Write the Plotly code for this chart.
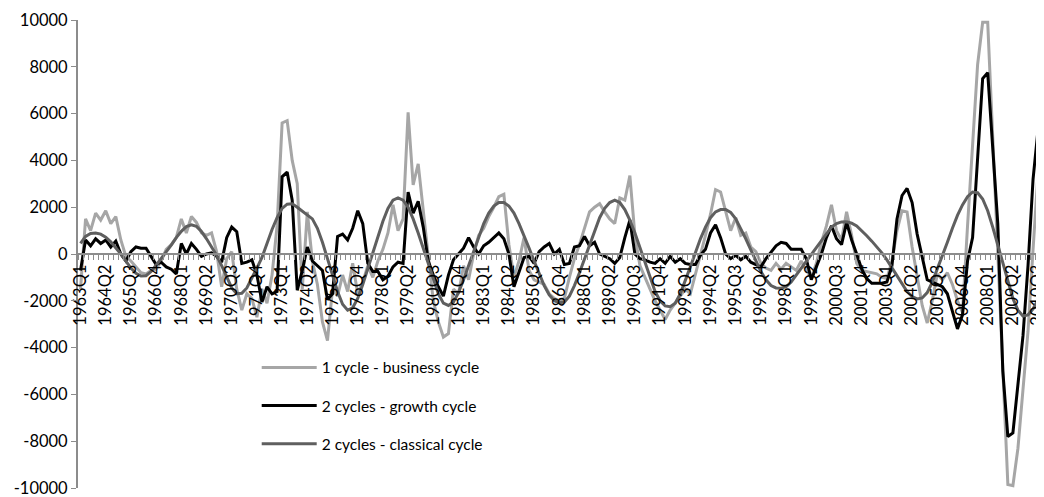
import plotly.graph_objects as go

# quarterly categories 1963Q1 .. 2010Q4
QUARTERS = [f"{y}Q{q}" for y in range(1963, 2011) for q in range(1, 5)]

TICK_LABELS = ["1963Q1", "1964Q2", "1965Q3", "1966Q4", "1968Q1", "1969Q2", "1970Q3", "1971Q4",
               "1973Q1", "1974Q2", "1975Q3", "1976Q4", "1978Q1", "1979Q2", "1980Q3", "1981Q4",
               "1983Q1", "1984Q2", "1985Q3", "1986Q4", "1988Q1", "1989Q2", "1990Q3", "1991Q4",
               "1993Q1", "1994Q2", "1995Q3", "1996Q4", "1998Q1", "1999Q2", "2000Q3", "2001Q4",
               "2003Q1", "2004Q2", "2005Q3", "2006Q4", "2008Q1", "2009Q2", "2010Q3"]

Y_TICKS = [-10000, -8000, -6000, -4000, -2000, 0, 2000, 4000, 6000, 8000, 10000]
Y_TICK_TEXT = ["-10000", "-8000", "-6000", "-4000", "-2000", "0", "2000", "4000", "6000", "8000", "10000"]

BUSINESS = [
    -1500, 1500, 1000, 1750, 1450, 1850, 1300, 1600, 600, -100,
    -300, -550, -800, -850, -700, -650, -300, 200, 400, 700,
    1500, 900, 1600, 1350, 900, 800, 900, 100, -1400, -200,
    100, -1500, -2400, -1700, -1900, -2700, -1500, -2100, -900, 1200,
    5600, 5700, 4000, 3000, -1500, 1800, -300, -1300, -2900, -3700,
    -1500, -1800, -900, -1600, -400, -1700, -1200, -500, -1000, -300,
    200, 900, 2100, 1000, 1500, 6050, 2950, 3850, 2000, -100,
    -2000, -2900, -3550, -3400, -1500, -1700, -500, -1100, 0, 800,
    1100, 1600, 2000, 2450, 2550, 400, -1000, -300, 700, -700,
    -1100, -1200, -1300, -1700, -1900, -2000, -1900, -1000, -200, 400,
    1150, 1800, 2000, 2150, 1800, 1500, 1300, 2400, 2300, 3350,
    800, -500, -1000, -1500, -2000, -2400, -2800, -2400, -2100, -1800,
    -1500, -1700, -900, -100, 800, 1700, 2750, 2650, 1800, 1000,
    1550, 800, 900, 300, 100, -400, -600, -700, -400, -650,
    -400, -550, -700, -300, -700, -1000, -400, 500, 1200, 2100,
    1000, 600, 1800, 800, -400, -700, -750, -800, -850, -1000,
    -1050, -300, 1000, 1850, 1800, 300, -1000, -2200, -2950, -2000,
    -850, -1100, -800, -1300, -2000, -2500, 1200, 4800, 8100, 9900,
    9900, 5000, 0, -5000, -9850, -9900, -8300, -5800, -3300, 200,
    3500, 3100,
]

GROWTH = [
    -700, 600, 350, 650, 450, 600, 300, 550, 0, -300,
    100, 300, 250, 250, -100, -450, -350, -550, -650, -850,
    450, 0, 450, 200, -100, 0, 50, -100, -350, 700,
    1150, 950, -400, -350, -250, -900, -2050, -1400, -1700, -1600,
    3300, 3500, 2300, -1550, -700, 300, -300, -500, -700, -1950,
    -1700, 750, 850, 600, 1100, 1850, 1300, -400, -750, -750,
    -1100, -950, -550, -350, -400, 2650, 1750, 2250, 1150, -300,
    -900, -1400, -1800, -900, -250, 0, 250, 700, 300, 0,
    350, 500, 700, 900, 650, 0, -1400, -800, -150, -100,
    -400, 100, 300, 450, 0, 200, -450, -400, 300, 350,
    750, 350, 500, 0, -100, -200, -400, -150, 700, 1450,
    0, -200, -250, -350, -400, -200, -400, -100, -350, -200,
    -400, -450, -450, -50, 200, 900, 1250, 700, 0, -200,
    -50, -250, -100, -350, -450, -550, -200, 100, 350, 500,
    450, 200, 200, 200, -200, -1100, -550, 0, 700, 1200,
    650, 400, 1350, 600, 0, -650, -1050, -1250, -1250, -1250,
    -1200, -500, 1500, 2500, 2800, 2200, 850, -100, -1100, -1200,
    -1300, -1400, -1700, -2400, -3200, -2600, -300, 700, 4200, 7500,
    7750, 4500, 1300, -5000, -7800, -7650, -5500, -3500, -500, 3200,
    5350, 4900,
]

CLASSICAL = [
    450, 750, 880, 900, 850, 720, 520, 280, 0, -300,
    -600, -820, -940, -930, -750, -480, -200, 50, 380, 700,
    970, 1170, 1250, 1180, 960, 650, 320, -50, -500, -1000,
    -1450, -1700, -1680, -1450, -1050, -600, -150, 450, 1050, 1550,
    1950, 2130, 2150, 2000, 1820, 1680, 1500, 1100, 500, -200,
    -900, -1600, -2150, -2400, -2300, -1900, -1300, -650, 50, 750,
    1400, 1950, 2300, 2400, 2300, 2000, 1500, 900, 250, -450,
    -1150, -1700, -2100, -2200, -2050, -1650, -1100, -500, 100, 700,
    1300, 1750, 2050, 2200, 2200, 2050, 1750, 1300, 800, 250,
    -300, -850, -1350, -1750, -2000, -2080, -2050, -1800, -1350, -800,
    -200, 400, 1000, 1550, 1950, 2200, 2300, 2200, 1900, 1450,
    900, 250, -400, -1050, -1600, -2000, -2220, -2250, -2100, -1700,
    -1150, -550, 50, 650, 1150, 1550, 1800, 1900, 1900, 1780,
    1500, 1100, 650, 180, -300, -750, -1100, -1350, -1450, -1460,
    -1400, -1200, -900, -600, -300, -50, 250, 600, 900, 1150,
    1300, 1370, 1380, 1320, 1200, 1000, 780, 550, 300, 50,
    -250, -600, -950, -1300, -1600, -1820, -1920, -1880, -1650, -1200,
    -650, -80, 500, 1100, 1650, 2100, 2450, 2650, 2620, 2350,
    1850, 1150, 400, -400, -1200, -1900, -2400, -2650, -2600, -2350,
    -1950, -1550,
]

SERIES = [
    ("1 cycle - business cycle", BUSINESS, "#A6A6A6"),
    ("2 cycles - growth cycle", GROWTH, "#000000"),
    ("2 cycles - classical cycle", CLASSICAL, "#5F5F5F"),
]

FONT = "Lato"

fig = go.Figure()
for k, (name, vals, color) in enumerate(SERIES):
    idx = list(range(len(vals)))
    fig.add_trace(go.Scatter(
        x=idx, y=vals, mode="lines", name=name,
        line=dict(color=color, width=3),
        legendgroup=f"g{k}",
        customdata=QUARTERS[:len(vals)],
        hovertemplate="%{customdata}: %{y}<extra>" + name + "</extra>",
    ))

tickvals = [QUARTERS.index(t) for t in TICK_LABELS]

# page body adds an 8px offset, so the figure is sized to end at the window edge
fig.update_layout(
    width=1036, height=489,
    margin=dict(l=70, r=0, t=12, b=9, autoexpand=False),
    paper_bgcolor="white", plot_bgcolor="white",
    showlegend=True,
    legend=dict(
        x=0.185, y=0.293, xanchor="left", yanchor="top",
        bgcolor="rgba(0,0,0,0)", font=dict(family=FONT, size=15.5, color="#000000"),
        tracegroupgap=15, itemwidth=55,
    ),
    xaxis=dict(
        range=[-0.5, 191.17],
        anchor="free", position=0.5, automargin=False,
        showline=True, linecolor="#8C8C8C", linewidth=2,
        showgrid=False, zeroline=False,
        tickmode="array", tickvals=tickvals, ticktext=TICK_LABELS,
        tickangle=-90, ticks="", ticklabelstandoff=3,
        ticklabeloverflow="allow",
        tickfont=dict(family=FONT, size=16.5, color="#000000"),
        minor=dict(tick0=-0.5, dtick=1, ticks="outside", ticklen=5,
                   tickcolor="#8C8C8C", tickwidth=1, showgrid=False),
    ),
    yaxis=dict(
        range=[-10000, 10000], automargin=False,
        tickmode="array", tickvals=Y_TICKS, ticktext=Y_TICK_TEXT,
        ticklabeloverflow="allow",
        showline=True, linecolor="#8C8C8C", linewidth=2,
        ticks="outside", ticklen=5, tickcolor="#8C8C8C", tickwidth=1,
        showgrid=False, zeroline=False,
        tickfont=dict(family=FONT, size=16.5, color="#000000"),
    ),
)

fig.write_html("out.html")
